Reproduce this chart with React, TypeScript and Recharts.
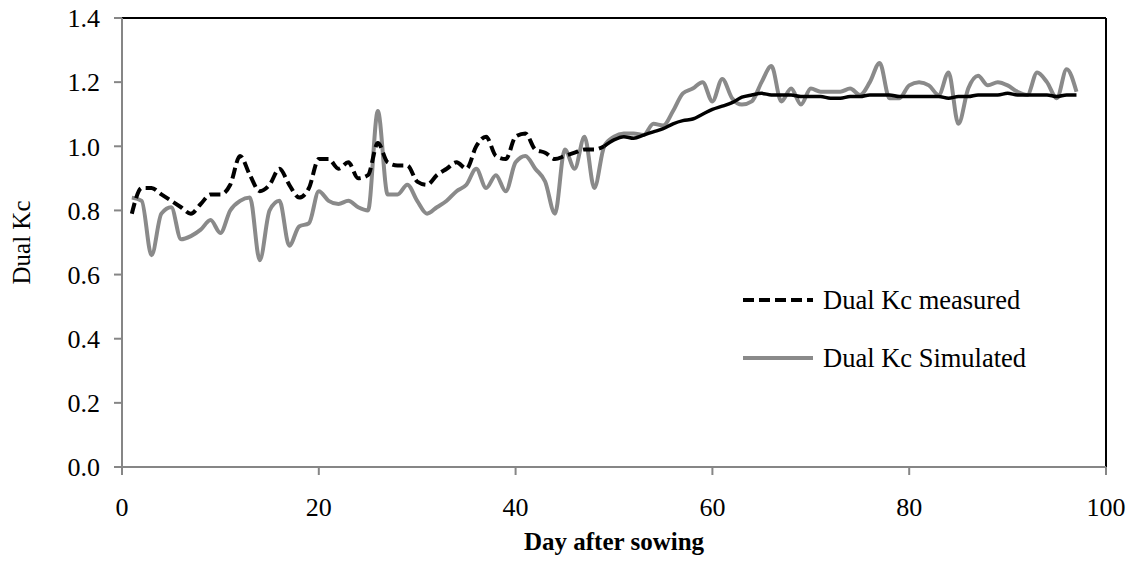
import React from 'react';
import { LineChart, Line, XAxis, YAxis, ReferenceLine } from 'recharts';

const days = [
  1, 2, 3, 4, 5, 6, 7, 8, 9, 10, 11, 12, 13, 14, 15, 16, 17, 18, 19, 20,
  21, 22, 23, 24, 25, 26, 27, 28, 29, 30, 31, 32, 33, 34, 35, 36, 37, 38, 39, 40,
  41, 42, 43, 44, 45, 46, 47, 48, 49, 50, 51, 52, 53, 54, 55, 56, 57, 58, 59, 60,
  61, 62, 63, 64, 65, 66, 67, 68, 69, 70, 71, 72, 73, 74, 75, 76, 77, 78, 79, 80,
  81, 82, 83, 84, 85, 86, 87, 88, 89, 90, 91, 92, 93, 94, 95, 96, 97,
];

const kcMeasured = [
  0.79, 0.87, 0.87, 0.85, 0.83, 0.81, 0.79, 0.82, 0.85, 0.85,
  0.88, 0.97, 0.91, 0.86, 0.88, 0.93, 0.88, 0.84, 0.87, 0.96,
  0.96, 0.93, 0.95, 0.9, 0.91, 1.01, 0.95, 0.94, 0.94, 0.89,
  0.88, 0.91, 0.93, 0.95, 0.93, 1.0, 1.03, 0.97, 0.96, 1.03,
  1.04, 0.99, 0.98, 0.96, 0.97, 0.98, 0.99, 0.99, 1.0, 1.02,
  1.03, 1.025, 1.035, 1.045, 1.055, 1.07, 1.08, 1.085, 1.1, 1.115,
  1.125, 1.136, 1.153, 1.16, 1.165, 1.16, 1.16, 1.16, 1.155, 1.155,
  1.155, 1.15, 1.15, 1.155, 1.155, 1.16, 1.16, 1.16, 1.155, 1.155,
  1.155, 1.155, 1.155, 1.15, 1.155, 1.155, 1.16, 1.16, 1.16, 1.165,
  1.16, 1.16, 1.16, 1.16, 1.155, 1.16, 1.16,
];

const kcSimulated = [
  0.84, 0.83, 0.66, 0.79, 0.81, 0.71, 0.72, 0.74, 0.77, 0.73,
  0.8, 0.83, 0.84, 0.645, 0.8, 0.83, 0.69, 0.75, 0.76, 0.86,
  0.83, 0.82, 0.83, 0.81, 0.8, 1.11, 0.85, 0.85, 0.88, 0.83,
  0.79, 0.81, 0.83, 0.86, 0.88, 0.93, 0.87, 0.91, 0.86, 0.95,
  0.97, 0.93, 0.89, 0.79, 0.99, 0.93, 1.03, 0.87, 1.0, 1.03,
  1.04, 1.04, 1.035, 1.07, 1.065, 1.11, 1.165, 1.18, 1.2, 1.14,
  1.21, 1.15, 1.13, 1.14, 1.2, 1.25, 1.14, 1.18, 1.13, 1.18,
  1.17, 1.17, 1.17, 1.18, 1.16, 1.2, 1.26, 1.15, 1.15, 1.19,
  1.2, 1.19, 1.16, 1.23, 1.07, 1.18, 1.22, 1.19, 1.2, 1.19,
  1.17, 1.16, 1.23, 1.2, 1.15, 1.24, 1.17,
];

const xTicks = [0, 20, 40, 60, 80, 100];
const yTicks = [0, 0.2, 0.4, 0.6, 0.8, 1.0, 1.2, 1.4];

// the measured curve prints dashed early on, then solid once the points pack together
const dashUntilDay = 49;

const data = days.map((day, i) => ({
  day,
  measuredDash: day <= dashUntilDay ? kcMeasured[i] : null,
  measuredSolid: day >= dashUntilDay ? kcMeasured[i] : null,
  simulated: kcSimulated[i],
}));

const font = '"Liberation Serif", "Times New Roman", serif';
const axisGray = '#868686';
const simGray = '#8a8a8a';

// legend drawn as an overlay so it does not eat into the plot area
const ChartLegend = () => (
  <svg
    width={340}
    height={100}
    style={{ position: 'absolute', left: 740, top: 280, fontFamily: font }}
  >
    <line x1={3} y1={20} x2={73} y2={20} stroke="#000" strokeWidth={4} strokeDasharray="11 5" />
    <text x={83} y={29} fontSize={26.5} fill="#000">Dual Kc measured</text>
    <line x1={3} y1={78} x2={73} y2={78} stroke={simGray} strokeWidth={4} />
    <text x={83} y={87} fontSize={26.5} fill="#000">Dual Kc Simulated</text>
  </svg>
);

const App: React.FC = () => {
  return (
    <div style={{ position: 'absolute', left: 0, top: 0, width: 1132, height: 577, background: '#fff' }}>
      <LineChart
        width={1132}
        height={577}
        data={data}
        margin={{ top: 18, right: 26, bottom: 0, left: 0 }}
        style={{ fontFamily: font }}
      >
        <XAxis
          dataKey="day"
          type="number"
          domain={[0, 100]}
          ticks={xTicks}
          height={110}
          axisLine={{ stroke: axisGray, strokeWidth: 2 }}
          tickLine={{ stroke: axisGray, strokeWidth: 2 }}
          tickSize={8}
          tickMargin={23}
          tick={{ fill: '#000', fontSize: 26, fontFamily: font }}
          label={{
            value: 'Day after sowing',
            position: 'insideBottom',
            offset: 27,
            fontSize: 25,
            fontWeight: 'bold',
            fontFamily: font,
            style: { fill: '#000' },
          }}
        />
        <YAxis
          type="number"
          domain={[0, 1.4]}
          ticks={yTicks}
          width={122}
          axisLine={{ stroke: axisGray, strokeWidth: 2 }}
          tickLine={{ stroke: axisGray, strokeWidth: 2 }}
          tickSize={8}
          tickMargin={14}
          tickFormatter={(v: number) => v.toFixed(1)}
          tick={{ fill: '#000', fontSize: 26, fontFamily: font }}
          label={{
            value: 'Dual Kc',
            angle: -90,
            position: 'insideLeft',
            offset: 21,
            fontSize: 25,
            fontFamily: font,
            style: { textAnchor: 'middle', fill: '#000' },
          }}
        />
        <ReferenceLine y={1.4} stroke="#000" strokeWidth={2} />
        <ReferenceLine x={100} stroke="#000" strokeWidth={2} />
        <Line
          type="monotone"
          dataKey="simulated"
          stroke={simGray}
          strokeWidth={4}
          dot={false}
          isAnimationActive={false}
        />
        <Line
          type="monotone"
          dataKey="measuredDash"
          stroke="#000"
          strokeWidth={4}
          strokeDasharray="11 5"
          dot={false}
          connectNulls={false}
          isAnimationActive={false}
        />
        <Line
          type="monotone"
          dataKey="measuredSolid"
          stroke="#000"
          strokeWidth={3.5}
          dot={false}
          connectNulls={false}
          isAnimationActive={false}
        />
      </LineChart>
      <ChartLegend />
    </div>
  );
};

export default App;
